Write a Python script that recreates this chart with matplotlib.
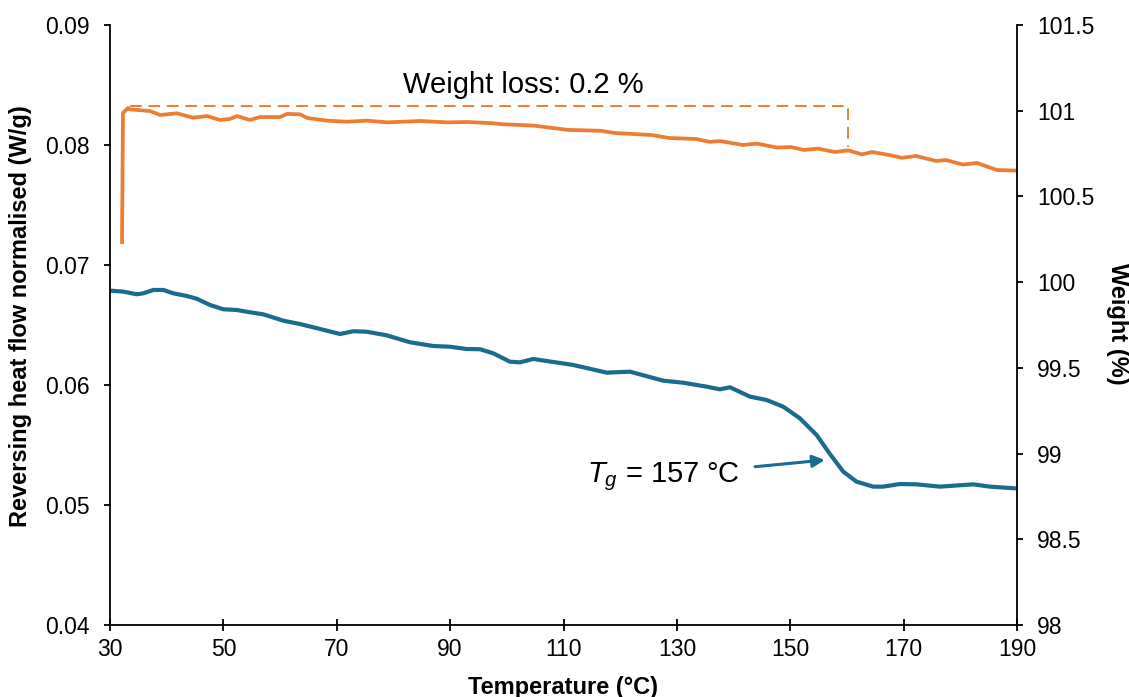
import matplotlib
matplotlib.use("Agg")
import matplotlib.pyplot as plt

plt.rcParams["font.family"] = ["Liberation Sans", "DejaVu Sans"]
plt.rcParams["mathtext.fontset"] = "custom"
plt.rcParams["mathtext.rm"] = "Liberation Sans"
plt.rcParams["mathtext.it"] = "Liberation Sans:italic"

# reversing heat flow (left axis)
heat_temp = [30.18, 32.35, 34.71, 35.87, 37.64, 39.40, 41.17, 43.53, 45.29, 47.64,
             49.99, 52.35, 54.70, 57.04, 60.57, 63.52, 67.04, 70.57, 72.92, 75.28,
             78.81, 82.92, 87.03, 89.97, 92.92, 95.27, 97.61, 100.56, 102.32, 104.67,
             107.32, 111.72, 117.62, 121.73, 127.60, 131.13, 135.26, 137.60, 139.37, 142.90,
             145.84, 148.77, 151.71, 154.66, 157.00, 159.35, 161.71, 164.65, 166.41, 169.35,
             172.30, 176.41, 182.28, 185.23, 189.64]
heat_flow = [0.06786, 0.06778, 0.06756, 0.06764, 0.06792, 0.06792, 0.06764, 0.06742, 0.06719, 0.06667,
             0.06631, 0.06625, 0.06606, 0.06589, 0.06536, 0.06508, 0.06467, 0.06425, 0.06448, 0.06444,
             0.06414, 0.06356, 0.06325, 0.06319, 0.06300, 0.06298, 0.06264, 0.06194, 0.06189, 0.06217,
             0.06198, 0.06167, 0.06103, 0.06111, 0.06036, 0.06019, 0.05986, 0.05964, 0.05981, 0.05903,
             0.05875, 0.05819, 0.05722, 0.05583, 0.05425, 0.05278, 0.05194, 0.05153, 0.05153, 0.05175,
             0.05172, 0.05153, 0.05172, 0.05153, 0.05139]

# weight (right axis)
weight_temp = [32.12, 32.29, 33.18, 33.53, 37.06, 38.82, 41.82, 44.64, 47.11, 49.40,
               51.17, 52.40, 54.70, 56.46, 59.99, 61.22, 63.52, 64.75, 68.28, 71.81,
               75.33, 78.86, 84.68, 89.45, 92.97, 97.56, 98.80, 104.79, 110.79, 116.61,
               119.08, 125.61, 128.61, 133.37, 135.84, 137.60, 141.66, 144.13, 147.66, 150.13,
               152.42, 154.89, 157.89, 160.18, 162.65, 164.42, 167.42, 169.71, 172.18, 175.71,
               177.47, 180.47, 182.94, 186.47, 189.65]
weight = [100.234, 100.987, 101.016, 101.008, 100.998, 100.975, 100.985, 100.959, 100.969, 100.946,
          100.952, 100.969, 100.946, 100.963, 100.963, 100.981, 100.979, 100.958, 100.942, 100.936,
          100.942, 100.932, 100.940, 100.932, 100.934, 100.927, 100.922, 100.913, 100.888, 100.883,
          100.870, 100.858, 100.841, 100.835, 100.818, 100.823, 100.800, 100.808, 100.785, 100.788,
          100.771, 100.779, 100.759, 100.769, 100.745, 100.759, 100.742, 100.725, 100.736, 100.707,
          100.712, 100.686, 100.695, 100.654, 100.651]

# weight loss bracket
bracket_temp = [33.5, 160.2, 160.2]
bracket_weight = [101.025, 101.025, 100.79]

x_ticks = [30, 50, 70, 90, 110, 130, 150, 170, 190]
left_ticks = [0.04, 0.05, 0.06, 0.07, 0.08, 0.09]
left_labels = ["0.04", "0.05", "0.06", "0.07", "0.08", "0.09"]
right_ticks = [98, 98.5, 99, 99.5, 100, 100.5, 101, 101.5]
right_labels = ["98", "98.5", "99", "99.5", "100", "100.5", "101", "101.5"]

blue = "#1A6B8C"
orange = "#ED7D31"

fig = plt.figure(figsize=(11.29, 6.97), dpi=100)
ax = fig.add_axes([110 / 1129, 72 / 697, 907 / 1129, 600 / 697])
ax2 = ax.twinx()

ax.plot(heat_temp, heat_flow, color=blue, lw=3, solid_capstyle="round")
ax2.plot(weight_temp, weight, color=orange, lw=2.7, solid_joinstyle="round")
ax2.plot(bracket_temp, bracket_weight, color=orange, lw=1.4, dashes=(6, 3.5))

ax.set_xlim(30, 190)
ax.set_ylim(0.04, 0.09)
ax2.set_ylim(98, 101.5)
ax.set_xticks(x_ticks)
ax.set_yticks(left_ticks, left_labels)
ax2.set_yticks(right_ticks, right_labels)

for a in (ax, ax2):
    a.spines["top"].set_visible(False)
    for s in a.spines.values():
        s.set_linewidth(1.3)
ax.spines["right"].set_visible(False)
ax2.spines["left"].set_visible(False)
ax2.spines["bottom"].set_visible(False)

ax.tick_params(axis="x", direction="inout", length=9, width=1.3, pad=5, labelsize=16.5)
ax.tick_params(axis="y", direction="out", length=4.5, width=1.3, pad=10, labelsize=16.5)
ax2.tick_params(axis="y", direction="out", length=4.5, width=1.3, pad=10, labelsize=16.5)

ax.set_xlabel("Temperature (°C)", fontsize=17, fontweight="bold")
ax.set_ylabel("Reversing heat flow normalised (W/g)", fontsize=17, fontweight="bold")
ax2.set_ylabel("Weight (%)", fontsize=17, fontweight="bold", rotation=270, va="bottom")
ax.xaxis.set_label_coords(0.4995, -0.085)
ax.yaxis.set_label_coords(-0.086, 0.515)
ax2.yaxis.set_label_coords(1.098, 0.502)

ax2.text(102.94, 101.103, "Weight loss: 0.2 %", fontsize=21, ha="center", va="baseline")
ax.text(141.1, 0.05186, r"$T_g$ = 157 °C", fontsize=21, ha="right", va="baseline")
ax.annotate("", xy=(156.1, 0.05375), xytext=(143.8, 0.05319),
            arrowprops=dict(arrowstyle="-|>", color=blue, lw=2.2, mutation_scale=18,
                            shrinkA=0, shrinkB=0))

fig.savefig("out.png", dpi=100)
